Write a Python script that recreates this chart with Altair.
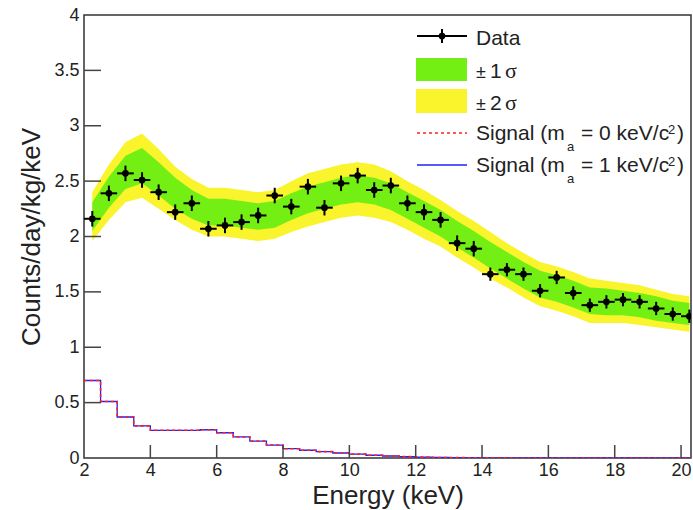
import altair as alt
import pandas as pd

# ---------------- data ----------------
energy = [2.25, 2.75, 3.25, 3.75, 4.25, 4.75, 5.25, 5.75, 6.25, 6.75, 7.25, 7.75,
          8.25, 8.75, 9.25, 9.75, 10.25, 10.75, 11.25, 11.75, 12.25, 12.75, 13.25,
          13.75, 14.25, 14.75, 15.25, 15.75, 16.25, 16.75, 17.25, 17.75, 18.25,
          18.75, 19.25, 19.75, 20.25]
counts = [2.16, 2.39, 2.57, 2.51, 2.40, 2.22, 2.30, 2.07, 2.10, 2.13, 2.19, 2.37,
          2.27, 2.45, 2.26, 2.48, 2.55, 2.42, 2.46, 2.30, 2.22, 2.15, 1.94,
          1.89, 1.66, 1.70, 1.66, 1.51, 1.63, 1.49, 1.38, 1.41, 1.43,
          1.41, 1.35, 1.30, 1.28]
counts_err = [0.07, 0.07, 0.07, 0.07, 0.07, 0.07, 0.07, 0.07, 0.07, 0.07, 0.07, 0.07,
              0.07, 0.07, 0.07, 0.07, 0.07, 0.07, 0.07, 0.07, 0.07, 0.07, 0.07,
              0.07, 0.06, 0.06, 0.06, 0.06, 0.06, 0.06, 0.06, 0.06, 0.06,
              0.06, 0.06, 0.06, 0.06]
bin_half = [0.25]  # half bin width in keV
background = [2.18, 2.40, 2.58, 2.64, 2.52, 2.39, 2.29, 2.22, 2.22, 2.20, 2.18, 2.20,
              2.27, 2.33, 2.37, 2.41, 2.43, 2.41, 2.36, 2.28, 2.20, 2.12, 2.02,
              1.93, 1.83, 1.74, 1.65, 1.57, 1.53, 1.48, 1.42, 1.41, 1.40,
              1.38, 1.35, 1.32, 1.30]
sigma1 = [0.13, 0.14, 0.15, 0.16, 0.15, 0.14, 0.13, 0.12, 0.12, 0.12, 0.12, 0.12,
          0.12, 0.12, 0.12, 0.12, 0.12, 0.12, 0.12, 0.12, 0.12, 0.12, 0.12,
          0.12, 0.12, 0.12, 0.12, 0.12, 0.12, 0.12, 0.12, 0.12, 0.11,
          0.11, 0.11, 0.10, 0.10]
sigma2 = [0.22, 0.25, 0.27, 0.29, 0.27, 0.24, 0.23, 0.22, 0.22, 0.22, 0.22, 0.22,
          0.23, 0.24, 0.24, 0.24, 0.24, 0.24, 0.23, 0.22, 0.22, 0.21, 0.21,
          0.21, 0.21, 0.20, 0.20, 0.20, 0.20, 0.20, 0.20, 0.19, 0.18,
          0.18, 0.17, 0.16, 0.16]

signal_edges = [2.0, 2.5, 3.0, 3.5, 4.0, 4.5, 5.0, 5.5, 6.0, 6.5, 7.0, 7.5, 8.0,
                8.5, 9.0, 9.5, 10.0, 10.5, 11.0, 11.5, 12.0, 12.5, 13.0, 13.5,
                14.0, 14.5, 15.0, 15.5, 16.0, 16.5, 17.0, 17.5, 18.0, 18.5, 19.0,
                19.5, 20.0, 20.5]
signal_m0 = [0.70, 0.51, 0.37, 0.29, 0.25, 0.25, 0.25, 0.255, 0.228, 0.19, 0.153,
             0.117, 0.084, 0.07, 0.058, 0.045, 0.035, 0.025, 0.018, 0.012, 0.008,
             0.005, 0.003, 0.002, 0.001, 0.001, 0.0, 0.0, 0.0, 0.0, 0.0, 0.0, 0.0,
             0.0, 0.0, 0.0, 0.0]
signal_m1 = [0.70, 0.51, 0.37, 0.29, 0.25, 0.25, 0.25, 0.255, 0.228, 0.19, 0.153,
             0.117, 0.084, 0.07, 0.058, 0.045, 0.035, 0.025, 0.018, 0.012, 0.008,
             0.005, 0.003, 0.002, 0.001, 0.001, 0.0, 0.0, 0.0, 0.0, 0.0, 0.0, 0.0,
             0.0, 0.0, 0.0, 0.0]

x_ticks = [4, 6, 8, 10, 12, 14, 16, 18, 20]
y_ticks = [0.5, 1.0, 1.5, 2.0, 2.5, 3.0, 3.5]
x_labels = [2, 4, 6, 8, 10, 12, 14, 16, 18, 20]
y_labels = [0, 0.5, 1, 1.5, 2, 2.5, 3, 3.5, 4]

# ---------------- tables ----------------
hw = bin_half[0]
df = pd.DataFrame({
    "E": energy,
    "y": counts,
    "ylo": [c - e for c, e in zip(counts, counts_err)],
    "yhi": [c + e for c, e in zip(counts, counts_err)],
    "Elo": [e - hw for e in energy],
    "Ehi": [e + hw for e in energy],
    "b1lo": [b - s for b, s in zip(background, sigma1)],
    "b1hi": [b + s for b, s in zip(background, sigma1)],
    "b2lo": [b - s for b, s in zip(background, sigma2)],
    "b2hi": [b + s for b, s in zip(background, sigma2)],
})
sig = pd.DataFrame({
    "E": signal_edges,
    "s0": signal_m0 + [signal_m0[-1]],
    "s1": signal_m1 + [signal_m1[-1]],
})
xt = pd.DataFrame({"t": x_ticks})
yt = pd.DataFrame({"t": y_ticks})

W, H = 607, 443
FONT = "Liberation Sans"
TXT = "#222222"

xs = alt.Scale(domain=[2, 20.3], nice=False, zero=False)
ys = alt.Scale(domain=[0, 4], nice=False, zero=False)

x_axis = alt.Axis(values=x_labels, format="d", ticks=False, domain=False, grid=False,
                  labelFont=FONT, labelFontSize=18, labelColor=TXT, labelPadding=3,
                  title="Energy (keV)", titleFont=FONT, titleFontSize=26,
                  titleFontWeight="normal", titleColor=TXT, titlePadding=3,
                  labelFlush=False)
y_axis = alt.Axis(values=y_labels, format="~g", ticks=False, domain=False, grid=False,
                  labelFont=FONT, labelFontSize=18, labelColor=TXT, labelPadding=5,
                  title="Counts/day/kg/keV", titleFont=FONT, titleFontSize=26,
                  titleFontWeight="normal", titleColor=TXT, titlePadding=9,
                  labelFlush=False)


def X(f):
    return alt.X(f, type="quantitative", scale=xs, axis=x_axis)


def Y(f):
    return alt.Y(f, type="quantitative", scale=ys, axis=y_axis)


base = alt.Chart(df)

band2 = base.mark_area(color="#f9f42b", opacity=1, clip=True).encode(
    x=X("E"), y=Y("b2lo"), y2="b2hi")
band1 = base.mark_area(color="#73ef14", opacity=1, clip=True).encode(
    x=X("E"), y=Y("b1lo"), y2="b1hi")

sig_blue = alt.Chart(sig).mark_line(interpolate="step-after", color="#2020ff",
                                    strokeWidth=1.3, clip=True).encode(
    x=X("E"), y=Y("s1"))
sig_red = alt.Chart(sig).mark_line(interpolate="step-after", color="#ff2020",
                                   strokeWidth=1.6, strokeDash=[3, 3], clip=True).encode(
    x=X("E"), y=Y("s0"))

herr = base.mark_rule(color="black", strokeWidth=2, clip=True).encode(
    x=X("Elo"), x2="Ehi", y=Y("y"))
verr = base.mark_rule(color="black", strokeWidth=2, clip=True).encode(
    x=X("E"), y=Y("ylo"), y2="yhi")
pts = base.mark_circle(color="black", size=45, opacity=1, clip=True).encode(
    x=X("E"), y=Y("y"))

xtick = alt.Chart(xt).mark_rule(color="#444444", strokeWidth=1.5).encode(
    x=X("t"), y=alt.value(H), y2=alt.value(H - 13))
ytick = alt.Chart(yt).mark_rule(color="#444444", strokeWidth=1.5).encode(
    y=Y("t"), x=alt.value(0), x2=alt.value(17))

# ---------------- legend (pixel positions inside plot area) ----------------
OX, OY = 84, 15
one = pd.DataFrame({"k": [0]})


def px(v):
    return alt.value(v - OX)


def py(v):
    return alt.value(v - OY)


def txt(s, x0, yb, size=21, font=FONT):
    return alt.Chart(one).mark_text(text=s, align="left", baseline="alphabetic",
                                    font=font, fontSize=size, color=TXT).encode(
        x=px(x0), y=py(yb))


leg = [
    alt.Chart(one).mark_rule(color="black", strokeWidth=2).encode(
        x=px(417), x2=px(467), y=py(36)),
    alt.Chart(one).mark_rule(color="black", strokeWidth=2).encode(
        x=px(442), y=py(29), y2=py(43)),
    alt.Chart(one).mark_circle(color="black", size=45, opacity=1).encode(
        x=px(442), y=py(36)),
    alt.Chart(one).mark_rect(color="#73ef14").encode(
        x=px(416), x2=px(467), y=py(58), y2=py(81)),
    alt.Chart(one).mark_rect(color="#f9f42b").encode(
        x=px(416), x2=px(467), y=py(89), y2=py(113)),
    alt.Chart(one).mark_rule(color="#ff2020", strokeWidth=1.6, strokeDash=[3, 3]).encode(
        x=px(417), x2=px(467), y=py(133)),
    alt.Chart(one).mark_rule(color="#2020ff", strokeWidth=1.3).encode(
        x=px(417), x2=px(467), y=py(165)),
    txt("Data", 476, 45),
    txt("±", 476, 78, size=18), txt("1", 490, 78), txt("σ", 505, 78, size=22,
                                                       font="Liberation Serif"),
    txt("±", 476, 110, size=18), txt("2", 490, 110), txt("σ", 505, 110, size=22,
                                                         font="Liberation Serif"),
    txt("Signal (m", 476, 140), txt("a", 567, 151, size=13),
    txt("= 0 keV/c", 581, 140), txt("2", 668, 134, size=13), txt(")", 677, 140),
    txt("Signal (m", 476, 172), txt("a", 567, 183, size=13),
    txt("= 1 keV/c", 581, 172), txt("2", 668, 166, size=13), txt(")", 677, 172),
]

chart = alt.layer(band2, band1, sig_blue, sig_red, herr, verr, pts, xtick, ytick,
                  *leg).properties(
    width=W, height=H,
    autosize=alt.AutoSizeParams(type="none"),
    padding={"left": 84, "top": 15, "right": 2, "bottom": 52},
    background="white",
).configure_view(stroke="#333333", strokeWidth=1.5)

chart.save("out.html", embed_options={"renderer": "svg", "actions": False})
